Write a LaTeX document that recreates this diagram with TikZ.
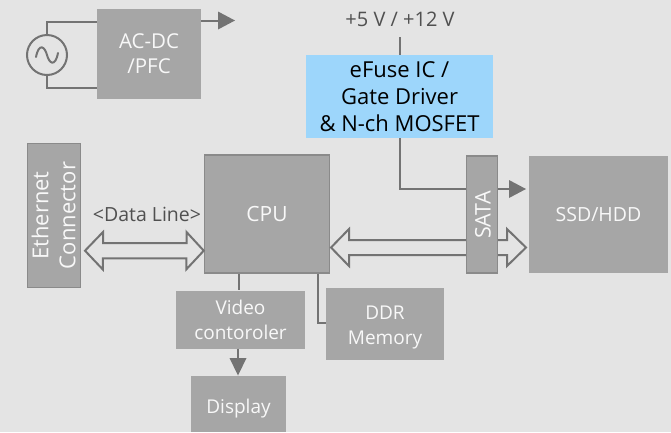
\documentclass[tikz,border=0pt]{standalone}
\usepackage{fontspec}
\setmainfont{Open Sans}
\definecolor{bgc}{HTML}{E4E4E4}
\definecolor{boxc}{HTML}{A6A6A6}
\definecolor{edgec}{HTML}{8A8A8A}
\definecolor{linec}{HTML}{737373}
\definecolor{bluec}{HTML}{9DD6FB}
\definecolor{txtc}{HTML}{F8F8F8}
\definecolor{darkt}{HTML}{505050}
\newcommand{\fs}[2]{\fontsize{#1}{#2}\selectfont}
\tikzset{
  gbox/.style={fill=boxc,draw=none,inner sep=0pt,align=center,text=txtc,font=\fs{19}{25}},
  ebox/.style={gbox,draw=edgec,line width=1.5pt},
  wire/.style={draw=linec,line width=2pt,line join=miter},
  fat/.style={draw=linec,line width=2pt,fill=bgc,line join=miter},
  head/.style={fill=linec,draw=none},
  lab/.style={text=darkt,inner sep=0pt,font=\fs{19.5}{24}}
}
\newcommand{\headR}[1]{\fill[head] (#1) -- ++(-17,-9) -- ++(0,18) -- cycle;}
\begin{document}
\begin{tikzpicture}[x=1pt,y=-1pt]
\useasboundingbox (0,0) rectangle (671,432);
\fill[bgc] (0,0) rectangle (671,432);
% boxes
\node[gbox,minimum width=104pt,minimum height=90pt,font=\fs{20.5}{25}] (acdc) at (149,54) {AC-DC\\/PFC};
\node[gbox,minimum width=187pt,minimum height=83pt,fill=bluec,text=black,font=\fs{22}{27}] (efuse) at (399.5,96.5) {eFuse IC /\\Gate Driver\\\& N-ch MOSFET};
\node[ebox,minimum width=53pt,minimum height=144pt] (eth) at (54,215.5) {};
\node[gbox,rotate=90,fill=none,text=txtc,font=\fs{22}{27}] (ethlab) at (53.5,215.5) {Ethernet\\Connector};
\node[ebox,minimum width=125pt,minimum height=118pt,font=\fs{21}{25}] (cpu) at (267,214) {CPU};
\node[gbox,minimum width=139pt,minimum height=117pt,font=\fs{19.5}{25}] (ssd) at (598.5,214.5) {SSD/HDD};
\node[gbox,minimum width=129pt,minimum height=58pt] (video) at (240.5,319.5) {Video\\contoroler};
\node[gbox,minimum width=118pt,minimum height=72pt] (ddr) at (385,324) {\rule{0pt}{21pt}DDR\\Memory};
\node[gbox,minimum width=95pt,minimum height=56pt] (disp) at (238.5,404) {\rule{0pt}{23pt}Display};
% AC source
\node[circle,draw=linec,line width=2pt,minimum size=40pt,inner sep=0pt] (src) at (47,55) {};
\draw[wire] (src.north) |- (acdc.west |- 0,22);
\draw[wire] (src.south) |- (acdc.west |- 0,88);
\draw[linec,line width=2pt,line cap=round] (36,57) .. controls (39,42) and (45,47) .. (47,55) .. controls (49,63) and (55,68) .. (58,53);
% AC-DC output
\coordinate (acout) at (235,20.5);
\draw[wire] (acdc.east |- acout) -- ++(18,0);
\headR{acout}
% Supply
\node[lab,font=\fs{20}{24}] (vin) at (400,19) {+5 V / +12 V};
\coordinate (vtop) at (400,37);
\draw[wire] (vtop) -- (vtop |- efuse.north);
% Double arrow: Ethernet to CPU
\coordinate (dl) at (85,250.7);
\draw[fat] (dl) -- ++(18,-18.7) -- ++(0,11) -- ++(83.5,0) -- ++(0,-11) -- (cpu.west |- dl) -- ++(-17.5,18.7) -- ++(0,-11) -- ++(-83.5,0) -- ++(0,11) -- cycle;
\node[lab] (dlab) at (147,214.5) {<Data Line>};
% Double arrow: CPU to SSD
\coordinate (sl) at (331,247.5);
\coordinate (sr) at (526,247.5);
\draw[fat] (sl) -- ++(18,-18.5) -- ++(0,11) -- ++(158,0) -- ++(0,-11) -- (sr) -- ++(-19,18.5) -- ++(0,-11) -- ++(-158,0) -- ++(0,11) -- cycle;
% SATA
\node[ebox,minimum width=31pt,minimum height=117pt] (sata) at (482,214.5) {};
\node[gbox,rotate=90,fill=none,font=\fs{21.5}{25}] (satalab) at (483,215) {SATA};
% Power to SATA
\coordinate (pw) at (526,189);
\draw[wire] (efuse.south -| 400,0) |- (sata.west |- pw);
\draw[wire] (sata.east |- pw) -- ++(14,0);
\headR{pw}
% CPU connections
\draw[wire] (cpu.south -| 238.7,0) -- (video.north -| 238.7,0);
\draw[wire] (cpu.south -| 317.7,0) |- (ddr.west |- 0,323);
\coordinate (dtip) at (238,375.5);
\draw[wire] (video.south -| dtip) -- ++(0,12);
\fill[head] (dtip) -- ++(-8.5,-17.5) -- ++(17,0) -- cycle;
\end{tikzpicture}
\end{document}
